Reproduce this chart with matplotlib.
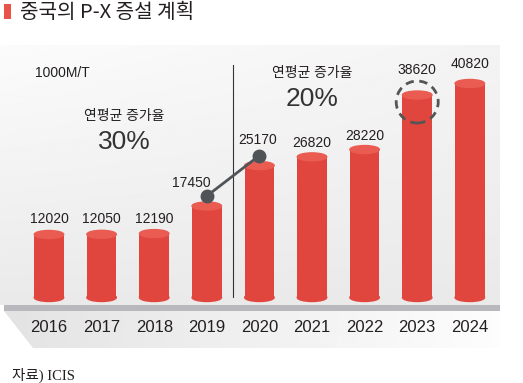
import matplotlib.pyplot as plt
import numpy as np
from matplotlib.patches import Ellipse, Polygon, Rectangle

plt.rcParams['font.family'] = ['Liberation Sans', 'Noto Sans CJK KR']

# ---------- data ----------
years = ['2016', '2017', '2018', '2019', '2020', '2021', '2022', '2023', '2024']
capacity = [12020, 12050, 12190, 17450, 25170, 26820, 28220, 38620, 40820]
# label offsets from bar top, in px (dx, dy)
label_dx = [0, 0, 0, -15, -2, 0, 0, 0, 0]
label_dy = [15, 15, 15, 23, 26, 14, 14, 25, 19]

W, H = 523, 383
K = 0.005243          # px per unit
RED = '#e0463e'
RED_TOP = '#ea5b51'
INK = '#231f20'

fig = plt.figure(figsize=(W / 100, H / 100), dpi=100)

# ---------- background (pixel coords) ----------
bg = fig.add_axes([0, 0, 1, 1], zorder=0)
bg.set_xlim(0, W)
bg.set_ylim(H, 0)
bg.axis('off')

yy, xx = np.mgrid[0:1:200j, 0:1:200j]
shade = 0.985 - 0.07 * yy - 0.03 * xx * (1 - yy)
bg.imshow(shade, cmap='gray', vmin=0, vmax=1, extent=(0, 500, 305, 45),
          aspect='auto', interpolation='bilinear')

bg.add_patch(Rectangle((4, 305), 496, 6, color='#b9b9bd', lw=0))
floor = Polygon([(4, 311), (500, 311), (500, 348), (33, 348)], closed=True,
                fc='none', ec='none')
bg.add_patch(floor)
fshade = np.tile(np.linspace(0.89, 0.99, 200), (20, 1))
fimg = bg.imshow(fshade, cmap='gray', vmin=0, vmax=1, extent=(4, 500, 348, 311),
                 aspect='auto', interpolation='bilinear')
fimg.set_clip_path(floor)

# title
bg.add_patch(Rectangle((4, 4), 7, 15, color='#e8544a', lw=0))
bg.text(20, 12, '중국의 P-X 증설 계획', fontsize=14.5, color=INK,
        va='center', ha='left', family=['Noto Sans CJK KR'], fontweight='medium')

# ---------- bars ----------
ax = fig.add_axes([6.9 / W, (H - 297.5) / H, 505 / W, 257.5 / H], zorder=1)
ax.set_xlim(-0.8, 8.8)
ax.set_ylim(0, 257.5 / K)
ax.patch.set_alpha(0)
for s in ax.spines.values():
    s.set_visible(False)
ax.set_yticks([])

x = np.arange(len(years))
bw = 0.56
cap_h = 8 / K
ax.bar(x, capacity, width=bw, color=RED, zorder=2)
for i, v in zip(x, capacity):
    ax.add_patch(Ellipse((i, 0), bw, cap_h, color=RED, zorder=2, clip_on=False))
    ax.add_patch(Ellipse((i, v), bw, cap_h, color=RED_TOP, zorder=3, clip_on=False))
for i, v, dx, dy in zip(x, capacity, label_dx, label_dy):
    ax.annotate(f'{v}', (i, v), xytext=(dx, dy), textcoords='offset pixels',
                ha='center', va='center', fontsize=10, color=INK)

ax.set_xticks(x, years)
ax.tick_params(length=0, pad=16, labelsize=12, labelcolor=INK)

# divider between periods
ax.plot([3.5, 3.5], [0, 44300], color='#333333', lw=0.8, zorder=1)

# connector 2019 -> 2020
lift = 10 / K
ax.plot([3, 4], [capacity[3] + lift, capacity[4] + lift], '-o', color='#505458',
        lw=2, ms=9, zorder=4, clip_on=False)

# dashed ring on 2023
ax.add_patch(Ellipse((7, capacity[7] - 7 / K), 42 / 52.6, 42 / K, fill=False,
                     ec='#555555', lw=2, ls=(0, (3, 2)), zorder=4, clip_on=False))

# ---------- annotations ----------
top = fig.add_axes([0, 0, 1, 1], zorder=2)
top.set_xlim(0, W)
top.set_ylim(H, 0)
top.axis('off')
top.text(35, 73, '1000M/T', fontsize=10, color=INK, va='center', ha='left')
top.text(124, 116, '연평균 증가율', fontsize=10, color=INK, ha='center', va='center')
top.text(124, 142, '30%', fontsize=19, color='#333333', ha='center', va='center')
top.text(312, 73, '연평균 증가율', fontsize=10, color=INK, ha='center', va='center')
top.text(312, 99, '20%', fontsize=19, color='#333333', ha='center', va='center')
top.text(12, 375, '자료) ICIS', fontsize=10.5, color=INK, ha='left', va='center',
         family=['Liberation Serif', 'Noto Sans CJK KR'])

fig.savefig('out.png', dpi=100)
